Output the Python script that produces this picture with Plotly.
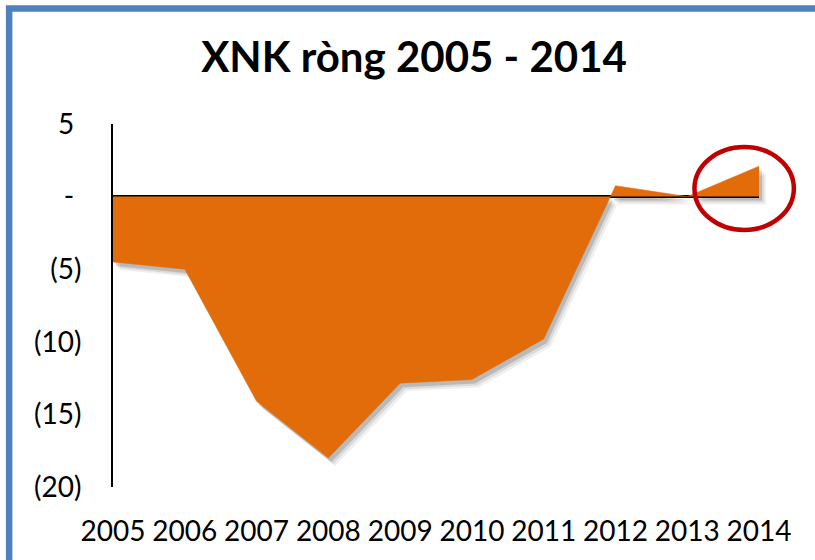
import plotly.graph_objects as go

# ---- data ----
years = ["2005", "2006", "2007", "2008", "2009", "2010", "2011", "2012", "2013", "2014"]
net_exports = [-4.5, -5.0, -14.1, -18.0, -12.85, -12.6, -9.8, 0.75, 0.0, 2.1]
y_tick_vals = [5, 0, -5, -10, -15, -20]
y_tick_text = ["5\u00a0", "-\u00a0", "(5)", "(10)", "(15)", "(20)"]
title_text = "XNK ròng 2005 - 2014"

W, H = 815, 560
# margins box (paper) in pixels
P_L, P_R, P_T, P_B = 113, 775, 124, 500
PLOT_R, PLOT_B = 763, 487
pw, ph = P_R - P_L, P_B - P_T


def px_x(px):
    return (px - P_L) / pw


def px_y(py):
    return (P_B - py) / ph


ORANGE = "#E36C0A"
FONT = "Lato"

fig = go.Figure()

main_xdom = [0, px_x(PLOT_R)]
main_ydom = [px_y(PLOT_B), 1]

# soft drop shadow: a few shifted translucent copies (drawn on lower subplots)
shadow_layers = [(7, 8, 0.06), (5, 6, 0.09), (3, 4, 0.15)]
layout_axes = {}
for i, (dx, dy, a) in enumerate(shadow_layers):
    n = "" if i == 0 else str(i + 1)
    fig.add_trace(go.Scatter(
        x=years, y=net_exports, mode="lines", fill="tozeroy",
        line=dict(width=0, color=f"rgba(0,0,0,{a})"),
        fillcolor=f"rgba(0,0,0,{a})",
        xaxis=f"x{n}", yaxis=f"y{n}", hoverinfo="skip", showlegend=False,
    ))
    layout_axes[f"xaxis{n}"] = dict(
        type="category", range=[0, 9], visible=False,
        domain=[main_xdom[0] + dx / pw, main_xdom[1] + dx / pw],
        anchor=f"y{n}",
    )
    layout_axes[f"yaxis{n}"] = dict(
        range=[-20, 5], visible=False, zeroline=False, showgrid=False,
        domain=[main_ydom[0] - dy / ph, main_ydom[1] - dy / ph],
        anchor=f"x{n}",
    )

# main visible subplot (drawn last, on top)
fig.add_trace(go.Scatter(
    x=years, y=net_exports, mode="lines", fill="tozeroy",
    line=dict(width=0.5, color=ORANGE), fillcolor=ORANGE,
    xaxis="x4", yaxis="y4", showlegend=False,
))
layout_axes["xaxis4"] = dict(
    type="category", range=[0, 9], domain=main_xdom, anchor="y4",
    showgrid=False, zeroline=False, showline=False, ticks="",
    tickfont=dict(family=FONT, size=28, color="black"),
    ticklabelstandoff=25,
)
layout_axes["yaxis4"] = dict(
    range=[-20, 5], domain=main_ydom, anchor="x4",
    tickvals=y_tick_vals, ticktext=y_tick_text,
    showgrid=False, showline=True, linecolor="black", linewidth=2,
    zeroline=True, zerolinecolor="black", zerolinewidth=2.5,
    layer="above traces",
    ticks="", tickfont=dict(family=FONT, size=28, color="black"),
    ticklabelstandoff=24,
)

fig.update_layout(
    width=W, height=H,
    margin=dict(l=P_L, r=W - P_R, t=P_T, b=H - P_B),
    paper_bgcolor="white", plot_bgcolor="rgba(0,0,0,0)",
    title=dict(
        text=title_text, xref="container", yref="container",
        x=0.508, y=1 - 57 / H, xanchor="center", yanchor="middle",
        font=dict(family=FONT, size=42, color="black", weight=700),
    ),
    **layout_axes,
)

shapes = [
    # blue frame
    dict(type="rect", xref="paper", yref="paper",
         x0=px_x(8.5), x1=px_x(900), y0=px_y(8.5), y1=px_y(700),
         line=dict(color="#4F81BD", width=6.5), fillcolor="rgba(0,0,0,0)"),
    # red highlight ellipse
    dict(type="circle", xref="paper", yref="paper",
         x0=px_x(698), x1=px_x(798), y0=px_y(230), y1=px_y(147),
         line=dict(color="#C00000", width=4.5), fillcolor="rgba(0,0,0,0)"),
]
fig.update_layout(shapes=shapes)

fig.write_html("out.html", config={"displayModeBar": False},
               post_script="document.body.style.margin='0';")
